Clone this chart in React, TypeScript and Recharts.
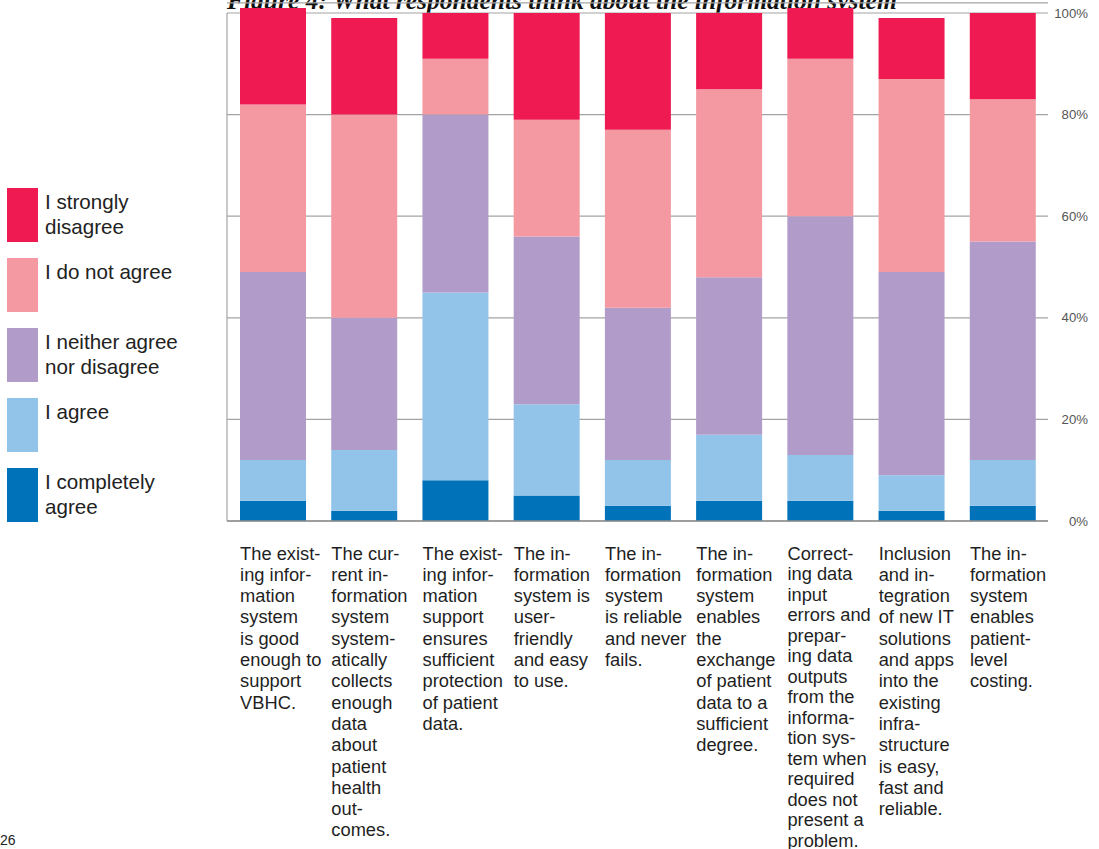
import React from 'react';
import { BarChart, Bar, XAxis, YAxis, CartesianGrid, ReferenceLine } from 'recharts';

const statements = [
  'The existing information system is good enough to support VBHC.',
  'The current information system systematically collects enough data about patient health outcomes.',
  'The existing information support ensures sufficient protection of patient data.',
  'The information system is user-friendly and easy to use.',
  'The information system is reliable and never fails.',
  'The information system enables the exchange of patient data to a sufficient degree.',
  'Correcting data input errors and preparing data outputs from the information system when required does not present a problem.',
  'Inclusion and integration of new IT solutions and apps into the existing infrastructure is easy, fast and reliable.',
  'The information system enables patient-level costing.',
];

// hand-broken lines as printed under each bar
const labelLines = [
  ['The exist-', 'ing infor-', 'mation', 'system', 'is good', 'enough to', 'support', 'VBHC.'],
  ['The cur-', 'rent in-', 'formation', 'system', 'system-', 'atically', 'collects', 'enough', 'data', 'about', 'patient', 'health', 'out-', 'comes.'],
  ['The exist-', 'ing infor-', 'mation', 'support', 'ensures', 'sufficient', 'protection', 'of patient', 'data.'],
  ['The in-', 'formation', 'system is', 'user-', 'friendly', 'and easy', 'to use.'],
  ['The in-', 'formation', 'system', 'is reliable', 'and never', 'fails.'],
  ['The in-', 'formation', 'system', 'enables', 'the', 'exchange', 'of patient', 'data to a', 'sufficient', 'degree.'],
  ['Correct-', 'ing data', 'input', 'errors and', 'prepar-', 'ing data', 'outputs', 'from the', 'informa-', 'tion sys-', 'tem when', 'required', 'does not', 'present a', 'problem.'],
  ['Inclusion', 'and in-', 'tegration', 'of new IT', 'solutions', 'and apps', 'into the', 'existing', 'infra-', 'structure', 'is easy,', 'fast and', 'reliable.'],
  ['The in-', 'formation', 'system', 'enables', 'patient-', 'level', 'costing.'],
];

const completelyAgree = [4, 2, 8, 5, 3, 4, 4, 2, 3];
const agree = [8, 12, 37, 18, 9, 13, 9, 7, 9];
const neither = [37, 26, 35, 33, 30, 31, 47, 40, 43];
const doNotAgree = [33, 40, 11, 23, 35, 37, 31, 38, 28];
const stronglyDisagree = [19, 19, 9, 21, 23, 15, 10, 12, 17];

const yTicks = [0, 20, 40, 60, 80, 100];

// top of legend first, as in the print
const seriesInfo = [
  { key: 'stronglyDisagree', name: 'I strongly disagree', lines: ['I strongly', 'disagree'], color: '#EF1A52' },
  { key: 'doNotAgree', name: 'I do not agree', lines: ['I do not agree'], color: '#F498A2' },
  { key: 'neither', name: 'I neither agree nor disagree', lines: ['I neither agree', 'nor disagree'], color: '#B19CC9' },
  { key: 'agree', name: 'I agree', lines: ['I agree'], color: '#92C4EA' },
  { key: 'completelyAgree', name: 'I completely agree', lines: ['I completely', 'agree'], color: '#0072BA' },
];

const data = statements.map((s, i) => ({
  statement: s,
  completelyAgree: completelyAgree[i],
  agree: agree[i],
  neither: neither[i],
  doNotAgree: doNotAgree[i],
  stronglyDisagree: stronglyDisagree[i],
}));

const SANS = '"Liberation Sans", Arial, Helvetica, sans-serif';
const BAR = 66;

const CategoryTick = (props: any) => {
  const { x, y, payload } = props;
  const idx = statements.indexOf(payload.value);
  const lines = labelLines[idx] || [];
  const lh = lines.length > 14 ? 20.5 : 21.3;
  const left = x - BAR / 2 + 0.5;
  return (
    <text x={left} y={y} fontSize={18.3} fill="#1f1f1f" fontFamily={SANS}>
      {lines.map((l, i) => (
        <tspan key={i} x={left} y={y + 38.5 + i * lh}>{l}</tspan>
      ))}
    </text>
  );
};

const PercentTick = (props: any) => {
  const { x, y, payload } = props;
  return (
    <text x={x + 40} y={y} textAnchor="end" dominantBaseline="central" fontSize={13.2} fill="#555" fontFamily={SANS}>
      {payload.value + '%'}
    </text>
  );
};

export default function App() {
  return (
    <div style={{ position: 'absolute', left: 0, top: 0, width: 1099, height: 849, overflow: 'hidden', background: '#fff' }}>
      <div
        style={{
          position: 'absolute', left: 227, top: -12.5, fontFamily: '"Liberation Serif", "Times New Roman", serif',
          fontStyle: 'italic', fontWeight: 'bold', fontSize: 25.5, lineHeight: '25.5px', whiteSpace: 'nowrap', color: '#111',
        }}
      >
        Figure 4: What respondents think about the information system
      </div>

      <BarChart
        width={1099}
        height={849}
        data={data}
        margin={{ top: 2.84, right: 0, left: 227, bottom: 8 }}
        style={{ position: 'absolute', left: 0, top: 0 }}
      >
        <CartesianGrid vertical={false} stroke="#a4a4a4" strokeWidth={1.2} />
        <XAxis
          dataKey="statement"
          height={320}
          interval={0}
          tickLine={false}
          axisLine={false}
          tickSize={0}
          tickMargin={0}
          tick={<CategoryTick />}
        />
        <YAxis
          orientation="right"
          width={51}
          domain={[0, 102]}
          ticks={yTicks}
          tickLine={false}
          axisLine={false}
          tickSize={0}
          tickMargin={0}
          tick={<PercentTick />}
        />
        {[...seriesInfo].reverse().map((s) => (
          <Bar key={s.key} dataKey={s.key} name={s.name} stackId="a" fill={s.color} barSize={BAR} isAnimationActive={false} />
        ))}
        <ReferenceLine y={0} stroke="#8c8c8c" strokeWidth={1.5} />
        <ReferenceLine
          segment={[{ x: statements[0], y: 0 }, { x: statements[0], y: 100 }]}
          position="start"
          stroke="#a4a4a4"
          strokeWidth={1.2}
        />
      </BarChart>

      <div style={{ position: 'absolute', left: 7, top: 188, fontFamily: SANS, color: '#222' }}>
        {seriesInfo.map((s) => (
          <div key={s.key} style={{ display: 'flex', height: 54, marginBottom: 16 }}>
            <div style={{ width: 31, height: 54, background: s.color, flexShrink: 0 }} />
            <div style={{ marginLeft: 7, fontSize: 20.6, lineHeight: '25px', paddingTop: 1 }}>
              {s.lines.map((l, i) => (
                <div key={i}>{l}</div>
              ))}
            </div>
          </div>
        ))}
      </div>

      <div style={{ position: 'absolute', left: 0, top: 832, fontFamily: SANS, fontSize: 14, color: '#222' }}>26</div>
    </div>
  );
}
